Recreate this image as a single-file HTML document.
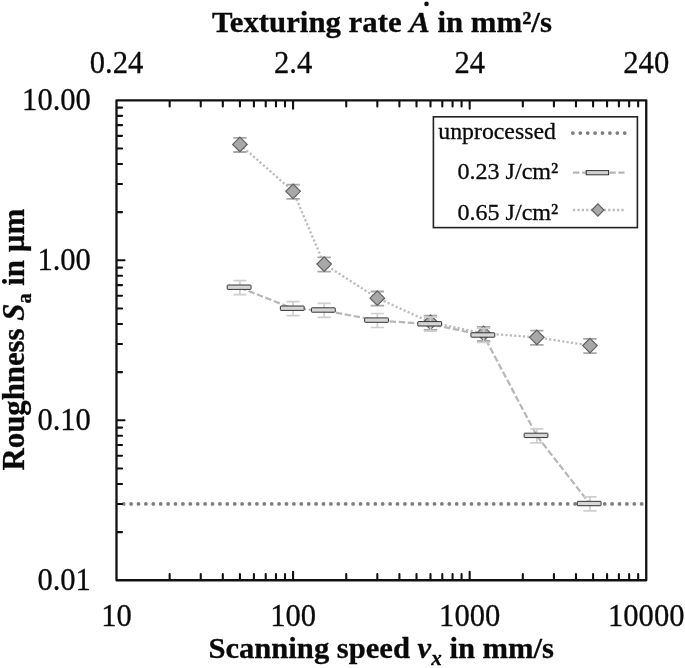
<!DOCTYPE html>
<html><head><meta charset="utf-8"><title>Roughness vs scanning speed</title>
<style>html,body{margin:0;padding:0;background:#fff;}body{width:685px;height:668px;overflow:hidden;}svg{display:block;will-change:transform;}text{font-family:"Liberation Serif",serif;fill:#0a0a0a;stroke:#0a0a0a;stroke-width:0.3px;}.b{font-weight:bold;}.i{font-style:italic;}</style>
</head><body>
<svg width="685" height="668" viewBox="0 0 685 668">
<rect x="0" y="0" width="685" height="668" fill="#ffffff"/>
<g id="unprocessed"><line x1="123.7" y1="503.93" x2="645.25" y2="503.93" stroke="#7e7e7e" stroke-width="3.8" stroke-linecap="round" stroke-dasharray="0 7.4"/></g>
<g id="lines" fill="none">
<polyline points="239.93,144.46 293.08,191.31 324.18,264.1 377.33,298.16 430.49,322.26 483.65,333.45 536.81,337.34 589.96,345.6" stroke="#bcbcbc" stroke-width="2.3" stroke-dasharray="2.2 2.2"/>
<polyline points="239.93,287.6 293.08,308.6 324.18,310.4 377.33,320.5 430.49,324.2 483.65,335.4 536.81,435.79 589.96,503.93" stroke="#b8b8b8" stroke-width="2.25" stroke-dasharray="6.5 2.6"/>
</g>
<g id="seriesB">
<path d="M239.93 137.81V152.01M233.23 137.81H246.63M233.23 152.01H246.63" stroke="#a8a8a8" stroke-width="1.8" fill="none"/>
<path d="M239.93 137.16L247.23 144.46L239.93 151.76L232.63 144.46Z" fill="#a8a8a8" stroke="#5e5e5e" stroke-width="1.15"/>
<path d="M293.08 184.66V198.86M286.38 184.66H299.78M286.38 198.86H299.78" stroke="#a8a8a8" stroke-width="1.8" fill="none"/>
<path d="M293.08 184.01L300.38 191.31L293.08 198.61L285.78 191.31Z" fill="#a8a8a8" stroke="#5e5e5e" stroke-width="1.15"/>
<path d="M324.18 257.45V271.65M317.48 257.45H330.88M317.48 271.65H330.88" stroke="#a8a8a8" stroke-width="1.8" fill="none"/>
<path d="M324.18 256.8L331.48 264.1L324.18 271.4L316.88 264.1Z" fill="#a8a8a8" stroke="#5e5e5e" stroke-width="1.15"/>
<path d="M377.33 291.51V305.71M370.63 291.51H384.03M370.63 305.71H384.03" stroke="#a8a8a8" stroke-width="1.8" fill="none"/>
<path d="M377.33 290.86L384.63 298.16L377.33 305.46L370.03 298.16Z" fill="#a8a8a8" stroke="#5e5e5e" stroke-width="1.15"/>
<path d="M430.49 315.61V329.81M423.79 315.61H437.19M423.79 329.81H437.19" stroke="#a8a8a8" stroke-width="1.8" fill="none"/>
<path d="M430.49 314.96L437.79 322.26L430.49 329.56L423.19 322.26Z" fill="#a8a8a8" stroke="#5e5e5e" stroke-width="1.15"/>
<path d="M483.65 326.8V341M476.95 326.8H490.35M476.95 341H490.35" stroke="#a8a8a8" stroke-width="1.8" fill="none"/>
<path d="M483.65 326.15L490.95 333.45L483.65 340.75L476.35 333.45Z" fill="#a8a8a8" stroke="#5e5e5e" stroke-width="1.15"/>
<path d="M536.81 330.69V344.89M530.11 330.69H543.51M530.11 344.89H543.51" stroke="#a8a8a8" stroke-width="1.8" fill="none"/>
<path d="M536.81 330.04L544.11 337.34L536.81 344.64L529.51 337.34Z" fill="#a8a8a8" stroke="#5e5e5e" stroke-width="1.15"/>
<path d="M589.96 338.95V353.15M583.26 338.95H596.66M583.26 353.15H596.66" stroke="#a8a8a8" stroke-width="1.8" fill="none"/>
<path d="M589.96 338.3L597.26 345.6L589.96 352.9L582.66 345.6Z" fill="#a8a8a8" stroke="#5e5e5e" stroke-width="1.15"/>
</g>
<g id="seriesA">
<path d="M239.93 280.6V294.6M233.33 280.6H246.53M233.33 294.6H246.53" stroke="#cecece" stroke-width="1.7" fill="none"/>
<rect x="227.23" y="285" width="23.8" height="4.4" rx="0.6" fill="#d6d6d6" stroke="#333" stroke-width="1"/>
<path d="M293.08 301.6V315.6M286.48 301.6H299.68M286.48 315.6H299.68" stroke="#cecece" stroke-width="1.7" fill="none"/>
<rect x="280.38" y="306" width="23.8" height="4.4" rx="0.6" fill="#d6d6d6" stroke="#333" stroke-width="1"/>
<path d="M324.18 303.4V317.4M317.58 303.4H330.78M317.58 317.4H330.78" stroke="#cecece" stroke-width="1.7" fill="none"/>
<rect x="311.48" y="307.8" width="23.8" height="4.4" rx="0.6" fill="#d6d6d6" stroke="#333" stroke-width="1"/>
<path d="M377.33 313.5V327.5M370.73 313.5H383.93M370.73 327.5H383.93" stroke="#cecece" stroke-width="1.7" fill="none"/>
<rect x="364.63" y="317.9" width="23.8" height="4.4" rx="0.6" fill="#d6d6d6" stroke="#333" stroke-width="1"/>
<path d="M430.49 317.2V331.2M423.89 317.2H437.09M423.89 331.2H437.09" stroke="#cecece" stroke-width="1.7" fill="none"/>
<rect x="417.79" y="321.6" width="23.8" height="4.4" rx="0.6" fill="#d6d6d6" stroke="#333" stroke-width="1"/>
<path d="M483.65 328.4V342.4M477.05 328.4H490.25M477.05 342.4H490.25" stroke="#cecece" stroke-width="1.7" fill="none"/>
<rect x="470.95" y="332.8" width="23.8" height="4.4" rx="0.6" fill="#d6d6d6" stroke="#333" stroke-width="1"/>
<path d="M536.81 428.79V442.79M530.21 428.79H543.41M530.21 442.79H543.41" stroke="#cecece" stroke-width="1.7" fill="none"/>
<rect x="524.11" y="433.19" width="23.8" height="4.4" rx="0.6" fill="#d6d6d6" stroke="#333" stroke-width="1"/>
<path d="M589.96 496.93V510.93M583.36 496.93H596.56M583.36 510.93H596.56" stroke="#cecece" stroke-width="1.7" fill="none"/>
<rect x="577.26" y="501.33" width="23.8" height="4.4" rx="0.6" fill="#d6d6d6" stroke="#333" stroke-width="1"/>
</g>
<g id="ticks" stroke="#111" stroke-width="2.1" stroke-linecap="round" fill="none">
<path d="M169.66 101.3v5.15 M169.66 579.3v-5.15"/>
<path d="M200.75 101.3v5.15 M200.75 579.3v-5.15"/>
<path d="M222.81 101.3v5.15 M222.81 579.3v-5.15"/>
<path d="M239.93 101.3v5.15 M239.93 579.3v-5.15"/>
<path d="M253.91 101.3v5.15 M253.91 579.3v-5.15"/>
<path d="M265.73 101.3v5.15 M265.73 579.3v-5.15"/>
<path d="M275.97 101.3v5.15 M275.97 579.3v-5.15"/>
<path d="M285 101.3v5.15 M285 579.3v-5.15"/>
<path d="M293.08 101.3v7.5 M293.08 579.3v-7.5"/>
<path d="M346.24 101.3v5.15 M346.24 579.3v-5.15"/>
<path d="M377.33 101.3v5.15 M377.33 579.3v-5.15"/>
<path d="M399.4 101.3v5.15 M399.4 579.3v-5.15"/>
<path d="M416.51 101.3v5.15 M416.51 579.3v-5.15"/>
<path d="M430.49 101.3v5.15 M430.49 579.3v-5.15"/>
<path d="M442.31 101.3v5.15 M442.31 579.3v-5.15"/>
<path d="M452.55 101.3v5.15 M452.55 579.3v-5.15"/>
<path d="M461.59 101.3v5.15 M461.59 579.3v-5.15"/>
<path d="M469.67 101.3v7.5 M469.67 579.3v-7.5"/>
<path d="M522.82 101.3v5.15 M522.82 579.3v-5.15"/>
<path d="M553.92 101.3v5.15 M553.92 579.3v-5.15"/>
<path d="M575.98 101.3v5.15 M575.98 579.3v-5.15"/>
<path d="M593.09 101.3v5.15 M593.09 579.3v-5.15"/>
<path d="M607.08 101.3v5.15 M607.08 579.3v-5.15"/>
<path d="M618.9 101.3v5.15 M618.9 579.3v-5.15"/>
<path d="M629.14 101.3v5.15 M629.14 579.3v-5.15"/>
<path d="M638.17 101.3v5.15 M638.17 579.3v-5.15"/>
<path d="M117.45 532.1h4.6"/>
<path d="M117.45 503.93h4.6"/>
<path d="M117.45 483.94h4.6"/>
<path d="M117.45 468.44h4.6"/>
<path d="M117.45 455.77h4.6"/>
<path d="M117.45 445.06h4.6"/>
<path d="M117.45 435.79h4.6"/>
<path d="M117.45 427.6h4.6"/>
<path d="M117.45 420.28h7.1"/>
<path d="M117.45 372.13h4.6"/>
<path d="M117.45 343.96h4.6"/>
<path d="M117.45 323.97h4.6"/>
<path d="M117.45 308.47h4.6"/>
<path d="M117.45 295.81h4.6"/>
<path d="M117.45 285.1h4.6"/>
<path d="M117.45 275.82h4.6"/>
<path d="M117.45 267.64h4.6"/>
<path d="M117.45 260.32h7.1"/>
<path d="M117.45 212.16h4.6"/>
<path d="M117.45 183.99h4.6"/>
<path d="M117.45 164.01h4.6"/>
<path d="M117.45 148.5h4.6"/>
<path d="M117.45 135.84h4.6"/>
<path d="M117.45 125.13h4.6"/>
<path d="M117.45 115.85h4.6"/>
<path d="M117.45 107.67h4.6"/>
</g>
<rect x="116.5" y="100.35" width="529.75" height="479.9" fill="none" stroke="#111" stroke-width="2.3" stroke-linejoin="round"/>
<g id="legend">
<rect x="433.4" y="116.8" width="204" height="110.8" fill="#fff" stroke="#222" stroke-width="1.6"/>
<line x1="572.9" y1="133.1" x2="626" y2="133.1" stroke="#7e7e7e" stroke-width="3.8" stroke-linecap="round" stroke-dasharray="0 7.4"/>
<line x1="572.9" y1="172.7" x2="624.5" y2="172.7" stroke="#b6b6b6" stroke-width="2.3" stroke-dasharray="6.5 2.6"/>
<rect x="586.2" y="170.6" width="22.4" height="4.2" fill="#d0d0d0" stroke="#2a2a2a" stroke-width="0.95"/>
<line x1="573" y1="210" x2="625" y2="210" stroke="#bcbcbc" stroke-width="2.3" stroke-dasharray="2.2 2.2"/>
<path d="M597.9 203.9L604 210L597.9 216.1L591.8 210Z" fill="#a8a8a8" stroke="#5e5e5e" stroke-width="1.15"/>
<text transform="translate(555.9,139) scale(0.992,1)" text-anchor="end" font-size="24">unprocessed</text>
<text transform="translate(558.3,179.4) scale(1.004,1)" text-anchor="end" font-size="24">0.23 J/cm²</text>
<text transform="translate(558.3,219.7) scale(1.004,1)" text-anchor="end" font-size="24">0.65 J/cm²</text>
</g>
<g id="ticklabels" font-size="31.8">
<text transform="translate(116.5,73.1) scale(0.962,1)" text-anchor="middle">0.24</text>
<text transform="translate(293.08,73.1) scale(0.962,1)" text-anchor="middle">2.4</text>
<text transform="translate(469.67,73.1) scale(0.962,1)" text-anchor="middle">24</text>
<text transform="translate(646.25,73.1) scale(0.962,1)" text-anchor="middle">240</text>
<text transform="translate(116.5,626) scale(0.962,1)" text-anchor="middle">10</text>
<text transform="translate(293.08,626) scale(0.962,1)" text-anchor="middle">100</text>
<text transform="translate(469.67,626) scale(0.962,1)" text-anchor="middle">1000</text>
<text transform="translate(646.25,626) scale(0.962,1)" text-anchor="middle">10000</text>
<text transform="translate(90.9,109.85) scale(0.962,1)" text-anchor="end">10.00</text>
<text transform="translate(90.9,269.82) scale(0.962,1)" text-anchor="end">1.00</text>
<text transform="translate(90.9,429.78) scale(0.962,1)" text-anchor="end">0.10</text>
<text transform="translate(90.9,589.75) scale(0.962,1)" text-anchor="end">0.01</text>
</g>
<g id="titles" class="b" font-size="30.4" stroke-width="0.4">
<text transform="translate(382,31.8) scale(1.013,1)" text-anchor="middle">Texturing rate <tspan class="i">A</tspan> in mm²/s</text>
<circle cx="426.5" cy="3.9" r="2.3" fill="#111"/>
<text transform="translate(381.2,657.7) scale(1.007,1)" text-anchor="middle">Scanning speed <tspan class="i">v</tspan><tspan class="i" font-size="21" dy="7">x</tspan><tspan dy="-7"> in mm/s</tspan></text>
<text transform="translate(23.9,339.7) rotate(-90) scale(0.969,1)" font-size="31.8" text-anchor="middle">Roughness <tspan class="i">S</tspan><tspan font-size="21" dy="7">a</tspan><tspan dy="-7"> in µm</tspan></text>
</g>
</svg></body></html>
